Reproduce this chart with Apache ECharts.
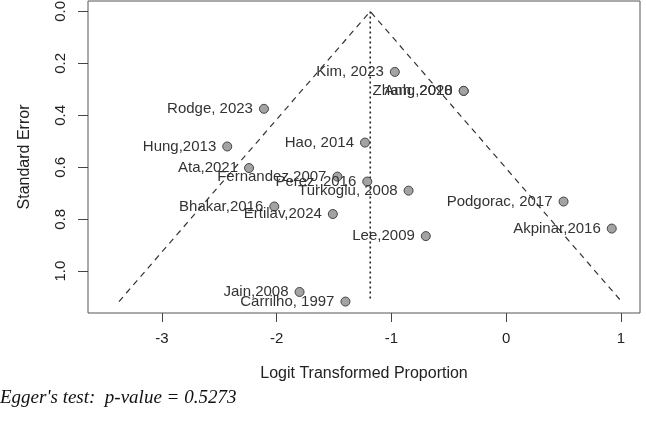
<!DOCTYPE html>
<html>
<head>
<meta charset="utf-8">
<script src="https://cdn.jsdelivr.net/npm/echarts@6/dist/echarts.min.js"></script>
<style>
  html, body { margin: 0; padding: 0; background: #fff; }
  #main { width: 646px; height: 423px; }
</style>
</head>
<body>
<div id="main"></div>
<script>
var myChart = echarts.init(document.getElementById('main'));

// studies (label, logit proportion, standard error)
var studyNames = ['Kim, 2023', 'Zhang,2020', 'Anh, 2018', 'Rodge, 2023', 'Hung,2013', 'Hao, 2014',
    'Ata,2021', 'Fernandez,2007', 'Perez, 2016', 'Turkoglu, 2008', 'Podgorac, 2017', 'Bhakar,2016',
    'Ertilav,2024', 'Akpinar,2016', 'Lee,2009', 'Jain,2008', 'Carrilho, 1997'];
var logitValues = [-0.97, -0.37, -0.37, -2.11, -2.43, -1.23,
    -2.24, -1.47, -1.21, -0.85, 0.50, -2.02,
    -1.51, 0.92, -0.70, -1.80, -1.40];
var seValues = [0.233, 0.306, 0.306, 0.375, 0.520, 0.505,
    0.603, 0.636, 0.655, 0.690, 0.732, 0.751,
    0.780, 0.836, 0.865, 1.080, 1.117];

// pooled estimate and funnel height
var pooledLogit = -1.184;
var maxSE = 1.117;

var xTicks = [-3, -2, -1, 0, 1];
var yTicks = [0, 0.2, 0.4, 0.6, 0.8, 1.0];

var eggerText = "Egger's test:  p-value = 0.5273";

var pointData = [];
for (var i = 0; i < studyNames.length; i++) {
    pointData.push({ name: studyNames[i], value: [logitValues[i], seValues[i]] });
}

var funnelData = [
    [pooledLogit - 1.96 * maxSE, maxSE],
    [pooledLogit, 0],
    [pooledLogit + 1.96 * maxSE, maxSE]
];
var centerData = [[pooledLogit, 0], [pooledLogit, maxSE]];

var font = 'Liberation Sans, Arial, sans-serif';

var option = {
    backgroundColor: '#fff',
    animation: false,
    grid: {
        left: 88,
        right: 6,
        top: 1,
        bottom: 110,
        outerBoundsMode: 'none',
        containLabel: false,
        show: true,
        borderColor: '#555',
        borderWidth: 1,
        backgroundColor: 'transparent'
    },
    xAxis: {
        type: 'value',
        position: 'bottom',
        min: -3.643,
        max: 1.166,
        name: 'Logit Transformed Proportion',
        nameLocation: 'middle',
        nameGap: 53,
        nameTextStyle: { fontFamily: font, fontSize: 16, color: '#222' },
        axisLine: { show: false, onZero: false },
        splitLine: { show: false },
        axisTick: {
            show: true,
            length: 9,
            customValues: xTicks,
            lineStyle: { color: '#444' }
        },
        axisLabel: {
            customValues: xTicks,
            margin: 18,
            fontFamily: font,
            fontSize: 15,
            color: '#222'
        }
    },
    yAxis: {
        type: 'value',
        position: 'left',
        inverse: true,
        min: -0.04,
        max: 1.161,
        name: 'Standard Error',
        nameLocation: 'middle',
        nameGap: 55,
        nameTextStyle: { fontFamily: font, fontSize: 16, color: '#222' },
        axisLine: { show: false, onZero: false },
        splitLine: { show: false },
        axisTick: {
            show: true,
            length: 10,
            customValues: yTicks,
            lineStyle: { color: '#444' }
        },
        axisLabel: {
            customValues: yTicks,
            rotate: 90,
            margin: 20,
            fontFamily: font,
            fontSize: 15,
            color: '#222',
            formatter: function (v) { return v.toFixed(1); }
        }
    },
    graphic: [{
        type: 'text',
        left: 0,
        top: 388,
        style: {
            text: eggerText,
            font: 'italic 19px "Liberation Serif", "Times New Roman", serif',
            fill: '#111'
        }
    }],
    series: [
        {
            type: 'line',
            data: funnelData,
            symbol: 'none',
            silent: true,
            lineStyle: { color: '#333', width: 1.2, type: [6, 5] },
            z: 1
        },
        {
            type: 'line',
            data: centerData,
            symbol: 'none',
            silent: true,
            lineStyle: { color: '#222', width: 1.6, type: [2, 3] },
            z: 1
        },
        {
            type: 'scatter',
            data: pointData,
            symbolSize: 9,
            itemStyle: { color: '#a3a3a3', borderColor: '#444', borderWidth: 1, opacity: 1 },
            label: {
                show: true,
                position: 'left',
                distance: 6,
                formatter: function (p) { return p.name; },
                fontFamily: font,
                fontSize: 15,
                color: '#333'
            },
            z: 3
        }
    ]
};

myChart.setOption(option);

window.onresize = function () {
    if (myChart) {
        myChart.resize();
    }
};
</script>
</body>
</html>
